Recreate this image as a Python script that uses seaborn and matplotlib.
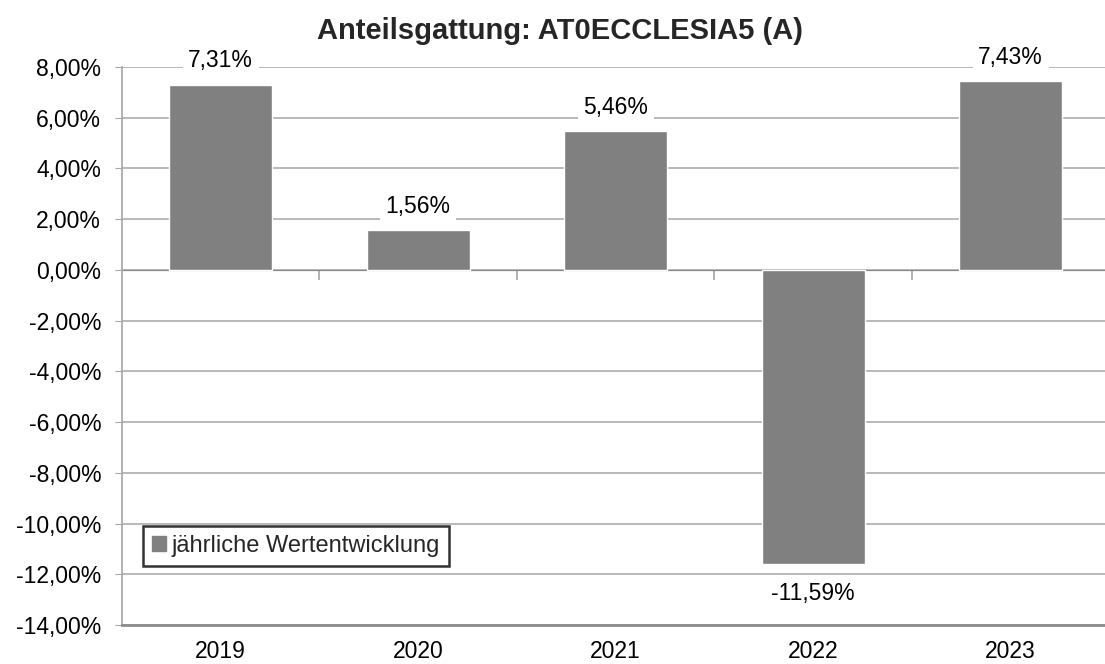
import matplotlib
matplotlib.use("Agg")
import matplotlib.pyplot as plt
from matplotlib.ticker import FuncFormatter, MultipleLocator
from matplotlib.patches import Patch
import seaborn as sns
import pandas as pd

# data
years = ["2019", "2020", "2021", "2022", "2023"]
returns = [7.31, 1.56, 5.46, -11.59, 7.43]
series_name = "jährliche Wertentwicklung"
title = "Anteilsgattung: AT0ECCLESIA5 (A)"

BAR = "#808080"
GRID = "#a6a6a6"
FS = 16.5

sns.set_style("white")
plt.rcParams["font.family"] = ["Liberation Sans", "DejaVu Sans"]

df = pd.DataFrame({"Jahr": years, "Wert": returns})

fig = plt.figure(figsize=(11.05, 6.64), dpi=100)
ax = fig.add_axes([122 / 1105, 1 - 625 / 664, 1 - 122 / 1105 + 0.004, (625 - 67) / 664])

sns.barplot(data=df, x="Jahr", y="Wert", color=BAR, width=0.52, saturation=1,
            ax=ax, zorder=3)

ax.set_ylim(-14, 8)
ax.set_xlim(-0.5, 4.5)
ax.yaxis.set_major_locator(MultipleLocator(2))
ax.yaxis.set_major_formatter(FuncFormatter(lambda v, p: f"{v:.2f}%".replace(".", ",")))
ax.grid(axis="y", color=GRID, linewidth=1.1, zorder=0)
ax.set_xlabel("")
ax.set_ylabel("")

for s in ["top", "right"]:
    ax.spines[s].set_visible(False)
ax.spines["left"].set_color(GRID)
ax.spines["left"].set_linewidth(1.2)
ax.spines["bottom"].set_color("#8c8c8c")
ax.spines["bottom"].set_linewidth(2)

ax.tick_params(axis="y", left=True, length=5, color=GRID, labelsize=FS, pad=10,
               labelcolor="black")
ax.tick_params(axis="x", bottom=False, labelsize=FS, pad=7, labelcolor="black")

# zero line with category boundary ticks
zero = ax.secondary_xaxis(14 / 22)
zero.set_xticks([0.5, 1.5, 2.5, 3.5])
zero.set_xticklabels([])
zero.tick_params(direction="in", length=7, color=GRID, width=1.2)
zero.spines["bottom"].set_color(GRID)
zero.spines["bottom"].set_linewidth(1.2)

# value labels
for i, v in enumerate(returns):
    y = v + 0.95 if v >= 0 else v - 1.15
    ax.text(i, y, f"{v:.2f}%".replace(".", ","), ha="center", va="center",
            fontsize=FS, color="black", zorder=4,
            bbox=dict(facecolor="white", edgecolor="none", pad=4))

leg = ax.legend(handles=[Patch(facecolor=BAR, edgecolor=BAR, label=series_name)],
                loc="lower left", bbox_to_anchor=(0.021, 0.105), frameon=True,
                fancybox=False, fontsize=17, handlelength=0.6, handleheight=0.6,
                handletextpad=0.2, borderpad=0.4, borderaxespad=0)
leg.get_frame().set_edgecolor("black")
leg.get_frame().set_linewidth(1.8)

fig.suptitle(title, x=0.507, y=0.975, fontsize=21, fontweight="bold")

fig.savefig("out.png", dpi=100)
